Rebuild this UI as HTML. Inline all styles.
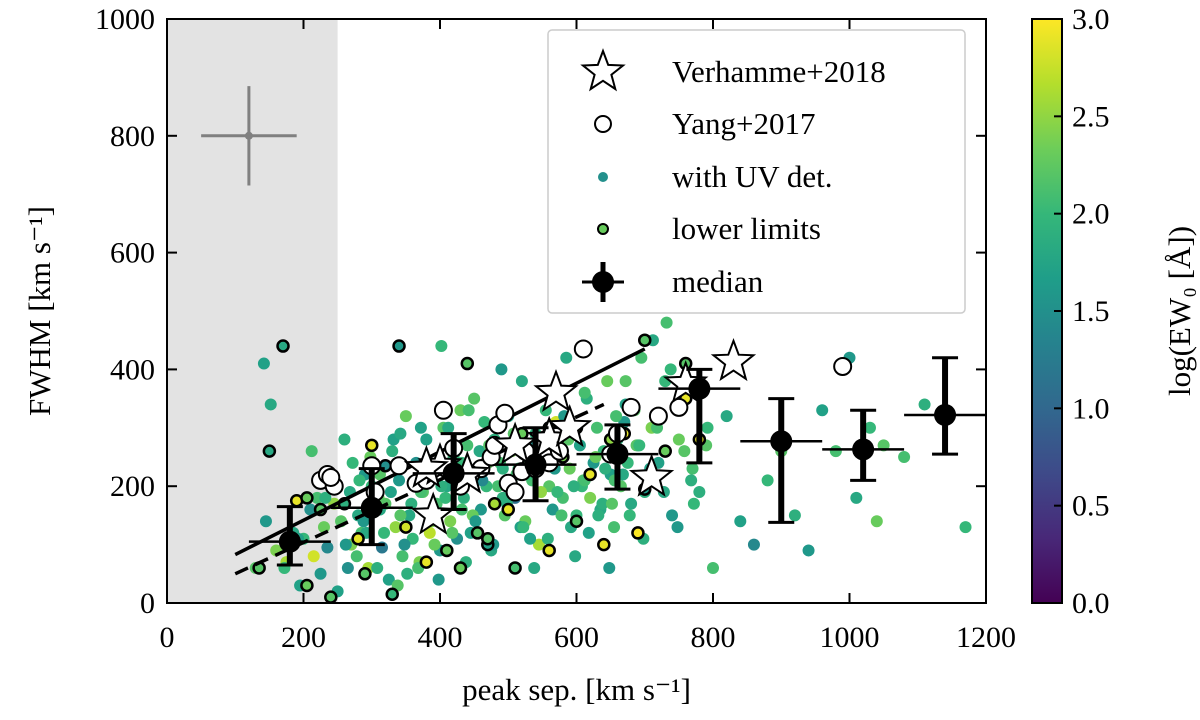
<!DOCTYPE html>
<html><head><meta charset="utf-8"><style>
body{margin:0;background:#fff}
svg text{font-family:"Liberation Serif",serif;fill:#000}
</style></head><body>
<svg id="c" width="1200" height="715" viewBox="0 0 1200 715" xmlns="http://www.w3.org/2000/svg"></svg>
<script>
const ptX=[130,145,160,175,185,195,200,210,215,220,225,230,235,240,245,250,255,260,265,270,280,285,290,295,300,310,315,320,325,330,335,340,345,350,355,360,365,370,375,380,385,390,395,400,405,410,415,420,425,430,435,440,445,450,455,460,465,470,475,480,485,490,495,500,505,510,515,520,525,530,535,540,545,550,555,560,565,570,575,580,585,590,595,600,605,610,615,620,625,630,635,640,645,650,655,660,665,670,675,680,685,690,695,700,710,720,730,740,750,760,770,780,790,800,820,840,860,880,900,920,940,960,980,1000,1010,1030,1040,1050,1080,1110,1170,
 268,278,288,298,308,318,328,338,348,358,368,378,388,398,408,418,428,438,448,458,468,478,488,498,508,518,528,538,548,558,568,578,588,598,608,618,628,638,648,658,668,678,688,698,708,718,728,738,748,758,768,272,292,312,332,352,372,392,412,432,452,472,492,512,532,552,572,592,612,632,652,672,692,712,732,752,772,792,612,642,672,582,552,522,462,432,402,372,342,312,282,262,232,212,192,172,152,142,402,492,442,342,536,596,656,716,776];
const ptY=[60,140,90,70,120,30,110,160,80,180,50,130,95,210,170,20,140,280,60,100,150,120,220,60,200,180,95,170,40,260,130,210,80,320,150,110,240,70,190,280,120,230,170,90,300,200,140,250,110,330,180,270,120,350,220,160,310,240,90,280,200,400,150,320,260,180,230,380,140,270,210,290,100,240,330,200,160,310,260,180,420,230,290,150,270,210,350,180,240,300,160,260,380,220,130,280,200,310,240,170,330,270,420,190,300,240,380,150,280,350,230,190,270,60,320,140,100,210,260,150,90,330,260,420,180,300,140,270,250,340,130,
 190,80,140,250,60,120,190,30,100,170,60,210,140,40,180,120,230,70,150,260,200,100,240,170,290,130,220,60,190,110,230,150,280,80,200,120,250,170,60,320,220,150,270,110,230,300,190,400,130,260,210,240,120,220,280,50,190,100,300,240,140,270,180,220,110,250,190,130,210,150,170,340,270,450,480,350,170,300,360,230,380,320,240,130,210,160,200,300,150,160,210,100,180,260,110,60,340,410,440,230,330,290,250,200,210];
const ptE=[2.2,1.6,2.4,2.6,1.8,1.7,2.0,1.5,2.8,2.1,1.6,2.3,1.4,1.9,2.5,1.7,2.2,1.9,1.5,2.4,1.8,2.1,1.6,2.6,2.0,2.3,1.2,2.2,1.7,1.9,2.5,1.6,2.1,2.3,1.8,2.0,1.5,2.4,2.2,1.7,2.7,1.9,2.1,1.6,2.2,1.8,2.4,2.0,1.5,2.3,1.9,2.1,1.7,2.2,2.5,1.6,2.0,2.3,1.8,1.9,2.1,1.6,2.2,1.7,2.4,1.1,2.0,1.8,2.3,1.5,2.1,1.9,2.6,1.7,2.0,2.2,1.6,2.8,1.9,2.1,1.8,2.3,1.5,2.0,1.7,2.2,1.9,2.4,1.6,2.1,1.8,2.0,2.3,1.7,2.1,1.9,2.2,1.6,2.0,1.8,2.2,1.5,2.1,1.9,2.4,1.7,2.0,1.6,2.3,1.8,2.1,1.9,2.2,2.1,1.8,1.7,1.4,2.0,2.2,1.9,1.6,1.7,2.1,1.6,1.8,2.0,2.3,2.2,2.1,1.9,2.0,
 1.8,2.1,1.6,2.3,1.9,2.0,1.7,2.2,1.5,1.9,2.1,1.8,2.4,1.6,2.0,2.2,1.7,1.9,2.3,1.8,2.0,1.6,2.1,1.9,2.2,1.7,2.0,1.8,2.5,1.9,1.6,2.1,2.2,1.8,2.0,1.7,2.3,1.9,1.6,2.1,1.8,2.0,2.2,1.9,1.7,2.1,1.8,2.0,1.6,2.2,1.9,2.0,1.8,2.2,1.7,1.9,2.1,2.3,1.8,2.0,1.6,2.2,1.9,2.1,1.7,2.4,2.0,1.8,2.1,1.9,2.2,1.7,2.0,1.8,2.1,1.6,2.0,2.0,2.1,1.9,2.2,1.6,1.8,2.0,1.4,2.1,1.9,1.7,2.2,1.8,2.0,1.6,1.9,2.1,1.7,2.0,1.8,1.7,2.0,1.9,2.1,1.8,2.0,1.9,2.1,2.0,2.2];
const limX=[190,260,320,350,410,440,470,500,530,560,620,650,700,170,205,290,330,380,455,510,580,640,690,730,760,400,480,520,600,280,225,150,205,135,240,300,340,430,560,600,700,760,670,470,780];
const limY=[175,170,235,130,90,410,100,160,240,300,220,280,195,440,30,50,15,70,120,60,250,100,120,260,350,230,170,290,300,110,160,260,180,60,10,270,440,60,90,140,450,410,290,110,280];
const limE=[2.9,1.9,1.5,2.8,2.3,2.2,1.7,2.9,2.2,2.6,2.9,2.5,1.6,1.8,2.3,2.2,2.0,2.9,2.2,2.1,2.4,2.9,3.0,2.3,2.9,2.2,2.6,2.3,2.5,2.9,2.2,1.8,2.3,2.2,2.2,2.9,1.6,2.3,2.9,2.2,2.2,2.2,2.9,2.2,2.9];
const yangX=[225,235,245,240,300,305,340,365,380,405,420,460,475,480,485,495,500,510,520,525,540,555,560,570,575,610,650,660,680,720,750,990,430,445];
const yangY=[210,220,200,215,235,190,235,205,210,330,265,230,250,270,305,325,205,190,225,260,230,250,240,285,260,435,255,290,335,320,335,405,200,220];
const starX=[570,830,760,710,390,400,510,560,590,380,440];
const starY=[360,413,375,215,150,235,270,280,300,230,220];
const medX=[180,300,420,540,660,780,900,1020,1140];
const medY=[105,163,222,237,255,367,277,263,322];
const medLo=[65,100,160,175,195,240,138,210,255];
const medHi=[165,230,290,300,305,400,350,330,420];
const xTicks=[0,200,400,600,800,1000,1200];
const yTicks=[0,200,400,600,800,1000];
const cTicks=[0,0.5,1,1.5,2,2.5,3];

const svg=document.getElementById('c');const NS='http://www.w3.org/2000/svg';
const X0=167,X1=986,Y0=603,Y1=19;
const sx=v=>X0+(X1-X0)*v/1200, sy=v=>Y0-(Y0-Y1)*v/1000;
function el(t,a,p){const e=document.createElementNS(NS,t);for(const k in a)e.setAttribute(k,a[k]);(p||svg).appendChild(e);return e;}
const vir=[[68,1,84],[72,40,120],[62,74,137],[49,104,142],[38,130,142],[31,158,137],[53,183,121],[109,205,89],[180,222,44],[253,231,37]];
function col(v){let t=Math.max(0,Math.min(1,v/3))*9;const i=Math.min(8,Math.floor(t)),f=t-i;const a=vir[i],b=vir[i+1];return `rgb(${a.map((c,k)=>Math.round(c+(b[k]-c)*f)).join(',')})`;}
const defs=el('defs',{});const cp=el('clipPath',{id:'cp'},defs);el('rect',{x:X0,y:Y1,width:X1-X0,height:Y0-Y1},cp);
let r=el('rect',{x:X0,y:Y1,width:sx(250)-X0,height:Y0-Y1,fill:'#e3e3e3'});


const g=el('g',{'clip-path':'url(#cp)'});
ptX.forEach((x,i)=>{if(ptY[i]===undefined)return;const c=el('circle',{cx:sx(x),cy:sy(ptY[i]),r:6,fill:col(ptE[i]!==undefined?ptE[i]:2)},g);

});
limX.forEach((x,i)=>{const c=el('circle',{cx:sx(x),cy:sy(limY[i]),r:5.5,fill:col(limE[i]),stroke:'#000','stroke-width':2.5},g);

});
let l=el('line',{x1:sx(100),y1:sy(83),x2:sx(700),y2:sy(435),stroke:'#000','stroke-width':3.5},g);
l=el('line',{x1:sx(100),y1:sy(50),x2:sx(640),y2:sy(340),stroke:'#000','stroke-width':3.5,'stroke-dasharray':'14,8'},g);
yangX.forEach((x,i)=>{const c=el('circle',{cx:sx(x),cy:sy(yangY[i]),r:8.5,fill:'#fff',stroke:'#000','stroke-width':2},g);
});
function starPts(cx,cy,R){let p=[];for(let k=0;k<10;k++){const a=-Math.PI/2+k*Math.PI/5,rr=k%2?R*0.42:R;p.push((cx+rr*Math.cos(a)).toFixed(1)+','+(cy+rr*Math.sin(a)).toFixed(1));}return p.join(' ');}
starX.forEach((x,i)=>{const s=el('polygon',{points:starPts(sx(x),sy(starY[i]),21),fill:'#fff',stroke:'#000','stroke-width':2},g);
});
medX.forEach((x,i)=>{const m=el('g',{},g);

el('line',{x1:sx(x-60),x2:sx(x+60),y1:sy(medY[i]),y2:sy(medY[i]),stroke:'#000','stroke-width':2.5},m);
el('line',{x1:sx(x),x2:sx(x),y1:sy(medLo[i]),y2:sy(medHi[i]),stroke:'#000','stroke-width':6},m);
el('line',{x1:sx(x)-13,x2:sx(x)+13,y1:sy(medLo[i]),y2:sy(medLo[i]),stroke:'#000','stroke-width':3},m);
el('line',{x1:sx(x)-13,x2:sx(x)+13,y1:sy(medHi[i]),y2:sy(medHi[i]),stroke:'#000','stroke-width':3},m);
el('circle',{cx:sx(x),cy:sy(medY[i]),r:11,fill:'#000'},m);});
const te=el('g',{stroke:'#808080','stroke-width':3});
el('line',{x1:sx(50),x2:sx(190),y1:sy(800),y2:sy(800)},te);el('line',{x1:sx(120),x2:sx(120),y1:sy(715),y2:sy(885)},te);
el('circle',{cx:sx(120),cy:sy(800),r:4,fill:'#808080',stroke:'none'},te);
el('rect',{x:X0,y:Y1,width:X1-X0,height:Y0-Y1,fill:'none',stroke:'#000','stroke-width':2});
xTicks.forEach(t=>{const x=sx(t);el('line',{x1:x,x2:x,y1:Y0,y2:Y0-10,stroke:'#000','stroke-width':2});el('line',{x1:x,x2:x,y1:Y1,y2:Y1+10,stroke:'#000','stroke-width':2});
const tx=el('text',{x:x,y:Y0+44,'font-size':30,'text-anchor':'middle'});tx.textContent=t;});
yTicks.forEach(t=>{const y=sy(t);el('line',{x1:X0,x2:X0+10,y1:y,y2:y,stroke:'#000','stroke-width':2});el('line',{x1:X1,x2:X1-10,y1:y,y2:y,stroke:'#000','stroke-width':2});
const tx=el('text',{x:X0-12,y:y+10,'font-size':30,'text-anchor':'end'});tx.textContent=t;});
let t=el('text',{x:(X0+X1)/2,y:700,'font-size':31,'text-anchor':'middle'});t.textContent='peak sep. [km s\u207B\u00B9]';
t=el('text',{x:0,y:0,'font-size':31,'text-anchor':'middle',transform:`translate(50,${(Y0+Y1)/2}) rotate(-90)`});t.textContent='FWHM [km s\u207B\u00B9]';
const lg=el('g',{});
el('rect',{x:548,y:30,width:417,height:283,rx:4,fill:'#fff','fill-opacity':0.85,stroke:'#ccc','stroke-width':1.5},lg);
const ly=[72,124,177,229,282],lab=['Verhamme+2018','Yang+2017','with UV det.','lower limits','median'];
el('polygon',{points:starPts(603,ly[0],21),fill:'#fff',stroke:'#000','stroke-width':2},lg);
el('circle',{cx:603,cy:ly[1],r:8,fill:'#fff',stroke:'#000','stroke-width':2},lg);
el('circle',{cx:603,cy:ly[2],r:5,fill:col(1.5)},lg);
el('circle',{cx:603,cy:ly[3],r:5,fill:col(2.3),stroke:'#000','stroke-width':2},lg);
el('line',{x1:582,x2:624,y1:ly[4],y2:ly[4],stroke:'#000','stroke-width':3},lg);el('line',{x1:603,x2:603,y1:ly[4]-20,y2:ly[4]+20,stroke:'#000','stroke-width':5},lg);el('circle',{cx:603,cy:ly[4],r:11,fill:'#000'},lg);
lab.forEach((s,i)=>{const e=el('text',{x:672,y:ly[i]+10,'font-size':31},lg);e.textContent=s;});
const CX=1032,CW=30;const cb=el('g',{});
const lgr=el('linearGradient',{id:'vg',x1:0,y1:1,x2:0,y2:0},defs);vir.forEach((c,i)=>el('stop',{offset:i/9,'stop-color':`rgb(${c})`},lgr));
el('rect',{x:CX,y:Y1,width:CW,height:Y0-Y1,fill:'url(#vg)',stroke:'#000','stroke-width':2},cb);
cTicks.forEach(v=>{const y=Y0-(Y0-Y1)*v/3;el('line',{x1:CX+CW-8,x2:CX+CW,y1:y,y2:y,stroke:'#000','stroke-width':2},cb);
const e=el('text',{x:CX+CW+10,y:y+10,'font-size':30},cb);e.textContent=v.toFixed(1);});
t=el('text',{x:0,y:0,'font-size':31,'text-anchor':'middle',transform:`translate(1190,${(Y0+Y1)/2}) rotate(-90)`});t.textContent='log(EW\u2080 [\u00C5])';
</script>
</body></html>
